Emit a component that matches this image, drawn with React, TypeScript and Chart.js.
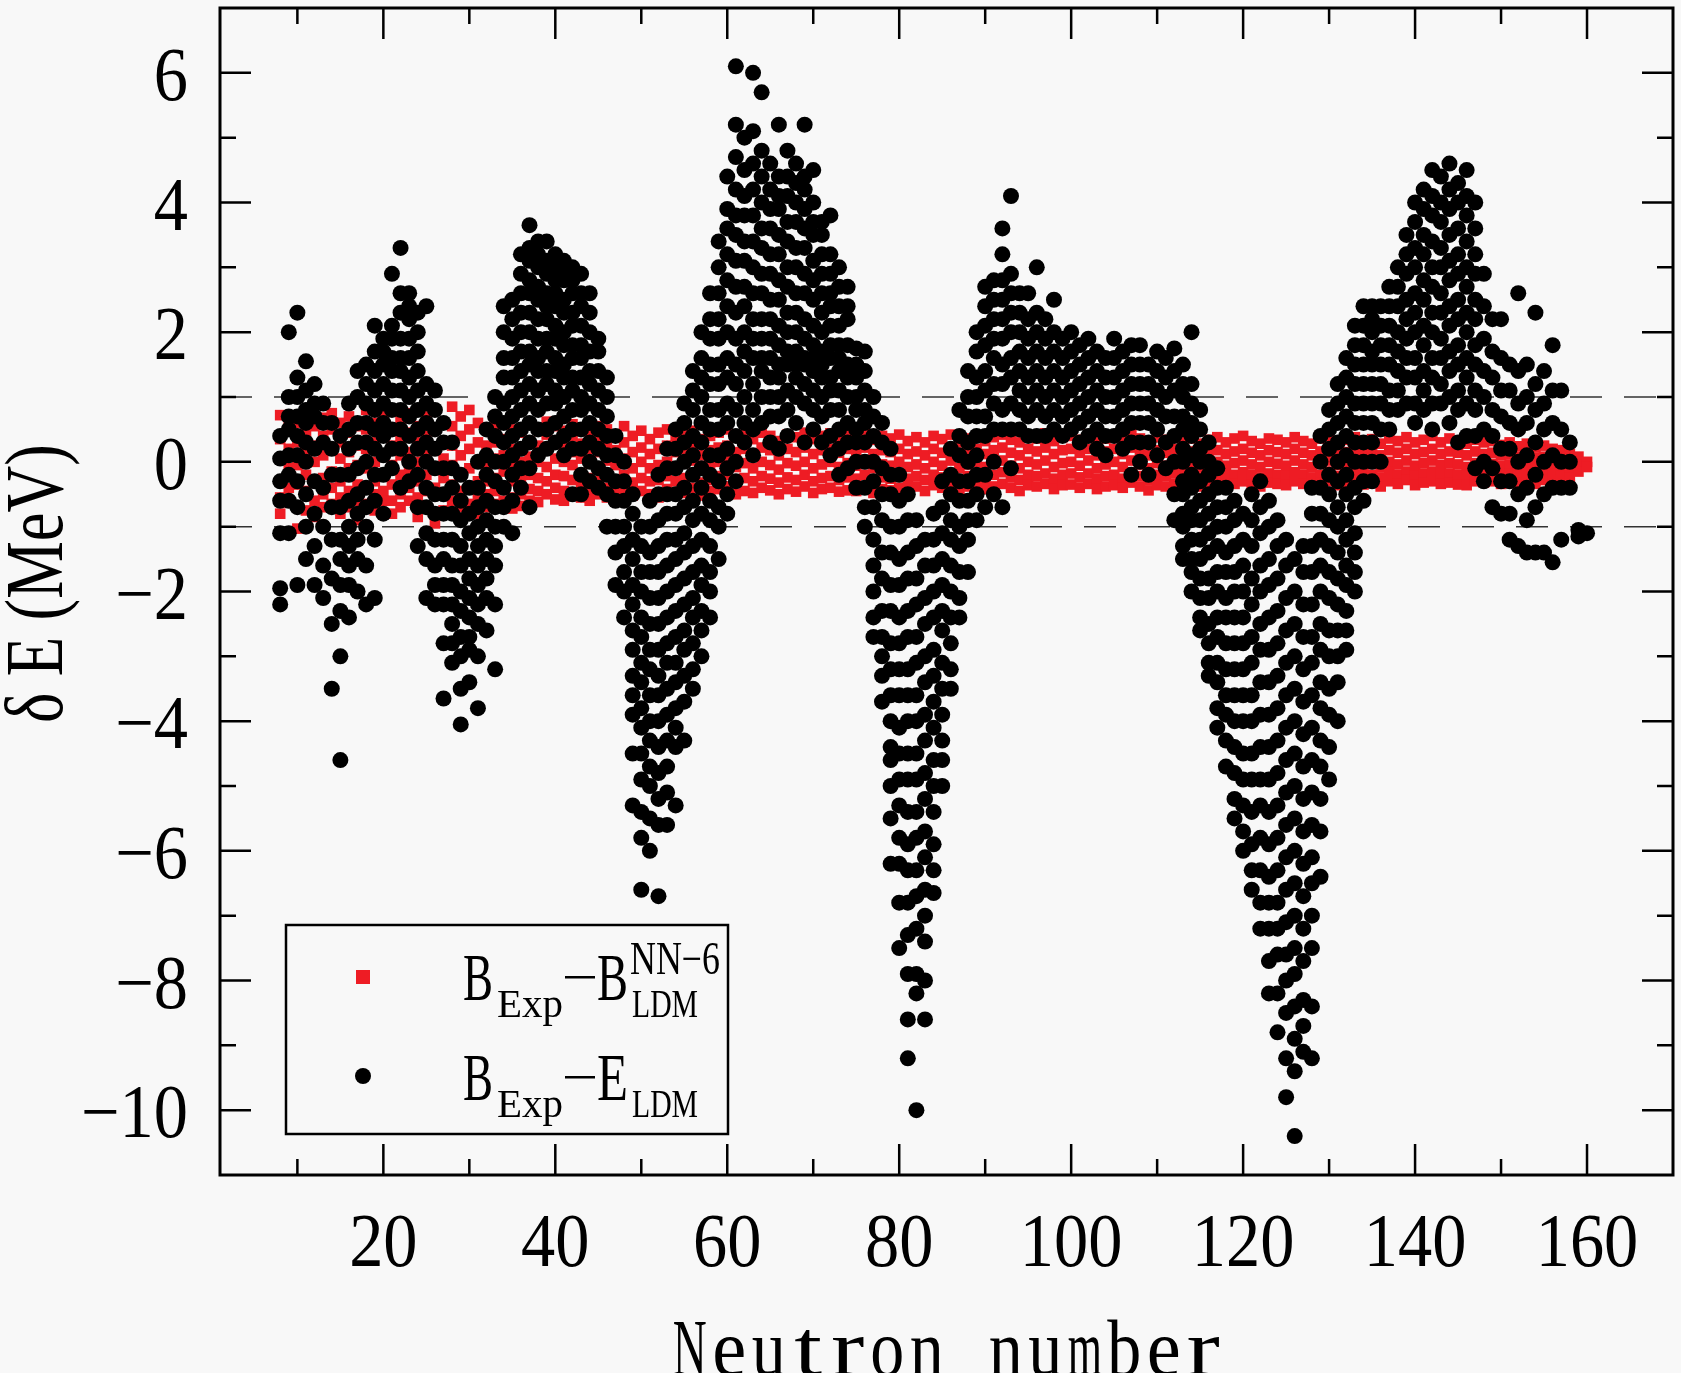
import { Chart, registerables, type ChartConfiguration, type Plugin } from "chart.js";
import { useEffect, useRef } from "react";

Chart.register(...registerables);

// axis ticks
const xMajor = [20, 40, 60, 80, 100, 120, 140, 160];
const xMinor = [10, 30, 50, 70, 90, 110, 130, 150];
const yMajor = [-10, -8, -6, -4, -2, 0, 2, 4, 6];
const yMinor = [-9, -7, -5, -3, -1, 1, 3, 5];
const guideLevels = [1, -1];

// B_Exp - E_LDM : [N, values...]
const ldmLight: number[][] = [
  [8, 0.4, 0.05, -0.3, -0.6, -1.1, -1.95, -2.2],
  [9, 2.0, 1.0, 0.7, 0.5, 0.1, -0.2, -0.6, -1.1],
  [10, 2.3, 1.3, 1.0, 0.7, 0.4, 0.1, -0.3, -0.7, -1.9],
  [11, 1.55, 1.1, 0.8, 0.6, 0.3, 0.0, -0.5, -1.0, -1.5],
  [12, 1.2, 0.9, 0.7, 0.2, -0.3, -0.8, -1.3, -1.9],
  [13, 0.9, 0.6, 0.3, -0.4, -1.0, -1.6, -2.1],
  [14, 0.6, 0.2, -0.2, -0.7, -1.2, -1.8, -2.5, -3.5],
  [15, 0.4, -0.2, -0.7, -1.2, -1.5, -1.9, -2.3, -3.0, -4.6],
  [16, 0.9, 0.5, 0.2, -0.2, -0.6, -1.0, -1.3, -1.6, -1.9, -2.4],
  [17, 1.4, 1.0, 0.6, 0.3, -0.1, -0.5, -0.8, -1.2, -1.5, -2.0],
  [18, 1.5, 1.2, 0.9, 0.6, 0.3, 0.0, -0.4, -0.7, -1.0, -1.6, -2.2],
  [19, 2.1, 1.7, 1.4, 1.1, 0.8, 0.5, 0.2, -0.2, -0.6, -1.2, -2.1],
  [20, 1.9, 1.7, 1.5, 1.2, 0.9, 0.6, 0.4, 0.1, -0.2, -0.8],
  [21, 2.9, 2.1, 1.9, 1.6, 1.4, 1.1, 0.8, 0.5, 0.2, -0.1],
  [22, 3.3, 2.6, 2.3, 1.9, 1.6, 1.4, 1.1, 0.8, 0.5, 0.2, -0.4],
  [23, 2.6, 2.4, 2.2, 1.9, 1.6, 1.3, 1.0, 0.7, 0.4, 0.0, -0.3],
  [24, 2.3, 2.0, 1.7, 1.4, 1.1, 0.8, 0.5, 0.2, -0.2, -0.7, -1.3],
  [25, 2.4, 1.2, 0.9, 0.6, 0.3, 0.0, -0.4, -0.7, -1.1, -1.5, -2.1],
  [26, 1.1, 0.8, 0.5, 0.2, -0.1, -0.5, -0.8, -1.2, -1.6, -1.9, -2.2],
  [27, 0.6, 0.3, -0.1, -0.5, -0.8, -1.2, -1.5, -1.9, -2.2, -2.8, -3.65],
  [28, 0.3, -0.1, -0.4, -0.8, -1.2, -1.6, -1.9, -2.2, -2.5, -2.8, -3.1],
  [29, -0.2, -0.6, -0.9, -1.3, -1.6, -2.0, -2.3, -2.7, -3.0, -3.5, -4.05],
  [30, -0.4, -0.8, -1.1, -1.5, -1.8, -2.1, -2.4, -2.7, -2.9, -3.4],
  [31, 0.0, -0.4, -0.7, -1.0, -1.3, -1.6, -1.9, -2.2, -2.5, -3.0, -3.8],
  [32, 0.5, 0.1, -0.2, -0.6, -0.9, -1.2, -1.5, -1.8, -2.1, -2.6],
  [33, 1.0, 0.7, 0.4, 0.0, -0.3, -0.7, -1.0, -1.3, -1.6, -2.2, -3.2],
];

const ldmMid: number[][] = [
  [34, 2.4, 2.0, 1.6, 1.3, 0.9, 0.6, 0.3, 0.0, -0.4, -0.7, -1.0],
  [35, 2.5, 2.2, 1.9, 1.6, 1.3, 1.0, 0.7, 0.4, 0.1, -0.2, -0.6, -1.1],
  [36, 3.2, 2.9, 2.6, 2.3, 2.0, 1.7, 1.4, 1.1, 0.8, 0.5, 0.2, -0.1, -0.4],
  [37, 3.65, 3.3, 3.1, 2.8, 2.6, 2.3, 2.0, 1.7, 1.5, 1.2, 0.9, 0.6, 0.3, -0.1, -0.7],
  [38, 3.4, 3.2, 3.0, 2.7, 2.5, 2.2, 1.9, 1.6, 1.4, 1.1, 0.8, 0.5, 0.1],
  [39, 3.4, 3.1, 2.9, 2.6, 2.4, 2.2, 1.9, 1.7, 1.4, 1.2, 0.9, 0.5, 0.2],
  [40, 3.2, 3.0, 2.8, 2.6, 2.4, 2.1, 1.9, 1.6, 1.4, 1.1, 0.9, 0.6, 0.3],
  [41, 3.1, 2.9, 2.8, 2.5, 2.3, 2.0, 1.8, 1.5, 1.3, 1.0, 0.7, 0.4, 0.1],
  [42, 3.0, 2.8, 2.6, 2.3, 2.1, 1.8, 1.6, 1.3, 1.1, 0.8, 0.5, 0.2, -0.5],
  [43, 2.9, 2.6, 2.4, 2.1, 1.8, 1.6, 1.3, 1.0, 0.8, 0.5, 0.2, -0.2, -0.5],
  [44, 2.6, 2.3, 2.0, 1.7, 1.4, 1.2, 0.9, 0.6, 0.3, 0.0, -0.3],
  [45, 1.9, 1.7, 1.4, 1.1, 0.8, 0.5, 0.2, -0.1, -0.4],
  [46, 1.3, 1.0, 0.7, 0.4, 0.1, -0.2, -0.5, -1.0],
  [47, 0.4, 0.1, -0.3, -0.6, -1.0, -1.4, -1.9],
  [48, 0.0, -0.3, -0.6, -1.0, -1.3, -1.7, -2.0, -2.4],
  [49, -0.5, -0.8, -1.2, -1.5, -1.9, -2.2, -2.6, -2.9, -3.3, -3.6, -3.9, -4.5, -5.3],
  [50, -1.0, -1.3, -1.7, -2.0, -2.4, -2.7, -3.1, -3.4, -3.8, -4.1, -4.5, -4.9, -5.4, -5.8, -6.6],
  [51, -0.6, -1.0, -1.4, -1.7, -2.1, -2.5, -2.9, -3.2, -3.6, -4.0, -4.3, -4.7, -5.0, -5.5, -6.0],
  [52, -0.2, -0.5, -0.9, -1.3, -1.7, -2.1, -2.5, -2.9, -3.3, -3.6, -4.0, -4.4, -4.8, -5.2, -5.6, -6.7],
  [53, 0.2, -0.1, -0.5, -0.8, -1.2, -1.6, -2.0, -2.4, -2.8, -3.1, -3.5, -3.9, -4.3, -4.7, -5.1, -5.6],
  [54, 0.5, 0.2, -0.1, -0.5, -0.8, -1.2, -1.5, -1.9, -2.3, -2.7, -3.1, -3.4, -3.8, -4.1, -4.4, -5.3],
  [55, 0.9, 0.6, 0.3, 0.0, -0.4, -0.7, -1.1, -1.4, -1.8, -2.2, -2.6, -2.9, -3.3, -3.7, -4.3],
  [56, 1.4, 1.1, 0.8, 0.4, 0.1, -0.2, -0.6, -0.9, -1.3, -1.7, -2.1, -2.4, -2.8, -3.2, -3.5],
  [57, 2.0, 1.6, 1.3, 1.0, 0.6, 0.3, -0.1, -0.4, -0.8, -1.2, -1.6, -1.9, -2.3, -2.6, -3.0],
  [58, 2.6, 2.2, 1.9, 1.5, 1.2, 0.8, 0.5, 0.1, -0.2, -0.6, -0.9, -1.3, -1.7, -2.0, -2.4],
  [59, 3.4, 3.0, 2.6, 2.2, 1.9, 1.5, 1.2, 0.8, 0.5, 0.1, -0.3, -0.7, -1.0, -1.5],
  [60, 4.4, 3.9, 3.6, 3.2, 2.8, 2.4, 2.0, 1.6, 1.3, 0.9, 0.6, 0.2, -0.1, -0.5, -0.8],
];

const ldmHeavy: number[][] = [
  [61, 6.1, 5.2, 4.7, 4.2, 3.8, 3.5, 3.1, 2.7, 2.3, 1.9, 1.5, 1.2, 0.8, 0.4, 0.0, -0.3],
  [62, 5.0, 4.5, 4.1, 3.8, 3.4, 3.1, 2.7, 2.4, 2.0, 1.7, 1.4, 1.0, 0.6, 0.3],
  [63, 6.0, 5.1, 4.6, 4.2, 3.8, 3.4, 3.0, 2.6, 2.2, 1.9, 1.6, 1.2, 0.8, 0.5, 0.1],
  [64, 5.7, 4.8, 4.4, 4.0, 3.6, 3.3, 2.9, 2.6, 2.2, 1.9, 1.6, 1.4, 1.0, 0.6],
  [65, 4.6, 4.2, 3.9, 3.6, 3.2, 2.9, 2.5, 2.2, 1.9, 1.6, 1.3, 1.0, 0.7, 0.3],
  [66, 5.2, 4.4, 4.1, 3.9, 3.5, 3.2, 2.8, 2.5, 2.1, 1.8, 1.5, 1.3, 1.0, 0.7, 0.2],
  [67, 4.8, 4.4, 4.1, 3.7, 3.4, 3.0, 2.7, 2.3, 2.0, 1.7, 1.5, 1.1, 0.8, 0.4],
  [68, 4.6, 4.3, 4.0, 3.7, 3.3, 3.0, 2.6, 2.3, 2.0, 1.7, 1.5, 1.3, 1.0, 0.6],
  [69, 5.2, 4.4, 4.2, 3.9, 3.6, 3.3, 2.9, 2.6, 2.2, 1.9, 1.6, 1.5, 1.2, 0.9, 0.3],
  [70, 4.5, 4.0, 3.7, 3.5, 3.1, 2.8, 2.5, 2.1, 1.8, 1.6, 1.4, 1.1, 0.8, 0.5],
  [71, 3.7, 3.5, 3.2, 2.9, 2.6, 2.3, 2.0, 1.7, 1.5, 1.3, 1.0, 0.7, 0.3],
  [72, 3.8, 3.2, 2.9, 2.6, 2.4, 2.1, 1.8, 1.6, 1.3, 1.1, 0.8, 0.4, 0.1],
  [73, 3.0, 2.7, 2.4, 2.1, 1.8, 1.6, 1.4, 1.1, 0.8, 0.5, 0.2, -0.2],
  [74, 2.7, 2.4, 2.2, 1.8, 1.5, 1.3, 1.0, 0.6, 0.3, -0.1],
  [75, 1.75, 1.5, 1.3, 1.0, 0.8, 0.5, 0.3, 0.0, -0.4],
  [76, 1.7, 1.4, 1.1, 0.8, 0.6, 0.3, 0.0, -0.4, -0.7, -1.0],
  [77, 1.0, 0.7, 0.4, 0.0, -0.3, -0.7, -1.2, -1.6, -2.0, -2.4, -2.7],
  [78, 0.6, 0.3, -0.1, -0.5, -0.9, -1.4, -1.8, -2.3, -2.7, -3.0, -3.3, -3.7],
  [79, 0.2, -0.2, -0.5, -1.0, -1.4, -1.9, -2.3, -2.8, -3.2, -3.6, -4.0, -4.4, -4.6, -5.0, -5.5, -6.2],
  [80, -0.2, -0.6, -1.0, -1.5, -1.9, -2.4, -2.8, -3.2, -3.6, -4.1, -4.5, -4.9, -5.3, -5.8, -6.2, -6.8, -7.5],
  [81, -0.5, -0.9, -1.4, -1.8, -2.3, -2.7, -3.2, -3.6, -4.0, -4.5, -4.9, -5.4, -5.9, -6.3, -6.8, -7.3, -7.9, -8.6, -9.2],
  [82, -0.9, -1.3, -1.8, -2.2, -2.7, -3.1, -3.6, -4.0, -4.5, -4.9, -5.4, -5.8, -6.3, -6.7, -7.2, -7.9, -8.2, -10.0],
  [83, -1.2, -1.6, -2.1, -2.5, -3.0, -3.4, -3.9, -4.3, -4.8, -5.2, -5.7, -6.1, -6.6, -7.0, -7.4, -8.0, -8.6],
  [84, -0.8, -1.2, -1.6, -2.0, -2.4, -2.9, -3.3, -3.7, -4.1, -4.6, -5.0, -5.4, -5.9, -6.3, -6.65],
  [85, -0.3, -0.7, -1.1, -1.5, -1.9, -2.3, -2.6, -3.1, -3.5, -3.9, -4.3, -4.6, -5.0],
  [86, 0.2, -0.2, -0.5, -0.9, -1.2, -1.6, -2.0, -2.4, -2.8, -3.2, -3.5],
  [87, 0.8, 0.4, 0.1, -0.3, -0.6, -1.0, -1.3, -1.7, -2.1, -2.4],
  [88, 1.4, 1.0, 0.7, 0.3, 0.0, -0.3, -0.6, -0.9, -1.2, -1.7],
  [89, 2.0, 1.7, 1.3, 1.0, 0.7, 0.4, 0.1, -0.2, -0.5, -0.9],
];

const ldmRare: number[][] = [
  [90, 2.7, 2.4, 2.1, 1.8, 1.4, 1.1, 0.7, 0.4, -0.2, -0.7],
  [91, 2.8, 2.5, 2.2, 1.9, 1.6, 1.2, 0.9, 0.5, 0.0, -0.5],
  [92, 3.6, 3.2, 2.8, 2.5, 2.2, 1.9, 1.5, 1.2, 0.8, 0.5, -0.7],
  [93, 4.1, 2.9, 2.6, 2.3, 2.0, 1.6, 1.3, 0.9, 0.5, -0.1],
  [94, 2.6, 2.3, 2.0, 1.7, 1.4, 1.1, 0.8, 0.5],
  [95, 2.6, 2.2, 1.9, 1.6, 1.3, 1.0, 0.7, 0.4],
  [96, 3.0, 2.3, 2.0, 1.7, 1.4, 1.1, 0.8, 0.4],
  [97, 2.2, 1.9, 1.6, 1.3, 1.0, 0.7, 0.4],
  [98, 2.5, 2.0, 1.7, 1.4, 1.1, 0.8, 0.5],
  [99, 1.9, 1.6, 1.3, 1.0, 0.7, 0.4],
  [100, 2.0, 1.7, 1.4, 1.1, 0.8, 0.5],
  [101, 1.8, 1.5, 1.2, 0.9, 0.6, 0.3],
  [102, 1.9, 1.6, 1.3, 1.0, 0.7, 0.4],
  [103, 1.7, 1.4, 1.1, 0.8, 0.5, 0.2],
  [104, 1.6, 1.3, 1.0, 0.7, 0.4, 0.1],
  [105, 1.9, 1.6, 1.3, 1.0, 0.7, 0.4],
  [106, 1.7, 1.4, 1.1, 0.8, 0.5, 0.2],
  [107, 1.8, 1.5, 1.2, 0.9, 0.6, 0.3, -0.2],
  [108, 1.8, 1.5, 1.2, 0.9, 0.6, 0.3, 0.0],
  [109, 1.5, 1.2, 0.9, 0.6, 0.3, -0.2],
  [110, 1.7, 1.4, 1.1, 0.8, 0.5, 0.1],
  [111, 1.6, 1.3, 1.0, 0.7, 0.3, -0.1],
  [112, 1.75, 1.4, 1.1, 0.7, 0.4, 0.0, -0.5, -0.9],
  [113, 1.5, 1.2, 1.0, 0.7, 0.5, 0.2, 0.0, -0.3, -0.5, -0.8, -1.0, -1.3, -1.5],
  [114, 2.0, 1.2, 0.9, 0.6, 0.4, 0.1, -0.2, -0.4, -0.7, -0.9, -1.2, -1.5, -1.7, -2.0],
  [115, 0.8, 0.5, 0.2, 0.0, -0.3, -0.6, -0.9, -1.2, -1.5, -1.8, -2.1, -2.4, -2.6],
  [116, 0.3, 0.0, -0.2, -0.5, -0.8, -1.1, -1.4, -1.8, -2.1, -2.5, -2.8, -3.1, -3.3],
  [117, -0.1, -0.4, -0.7, -1.0, -1.3, -1.7, -2.0, -2.4, -2.7, -3.1, -3.4, -3.8, -4.1],
  [118, -0.4, -0.7, -1.0, -1.4, -1.7, -2.1, -2.4, -2.8, -3.2, -3.6, -3.9, -4.3, -4.7],
  [119, -0.6, -0.9, -1.3, -1.7, -2.0, -2.4, -2.8, -3.2, -3.6, -4.0, -4.4, -4.8, -5.2, -5.5],
  [120, -0.8, -1.2, -1.6, -2.0, -2.4, -2.8, -3.2, -3.6, -4.0, -4.5, -4.9, -5.3, -5.7, -6.0],
];

const ldmActinide: number[][] = [
  [121, -0.5, -0.9, -1.3, -1.8, -2.2, -2.7, -3.1, -3.6, -4.0, -4.5, -4.9, -5.4, -5.9, -6.3, -6.6],
  [122, -0.3, -0.7, -1.1, -1.6, -2.0, -2.5, -2.9, -3.4, -3.9, -4.4, -4.9, -5.3, -5.8, -6.3, -6.8, -7.2],
  [123, -0.6, -1.0, -1.5, -1.9, -2.4, -2.9, -3.4, -3.9, -4.4, -4.9, -5.4, -5.9, -6.4, -6.8, -7.2, -7.7, -8.2],
  [124, -0.9, -1.3, -1.8, -2.3, -2.8, -3.3, -3.8, -4.3, -4.8, -5.3, -5.8, -6.3, -6.8, -7.2, -7.6, -8.2, -8.8],
  [125, -1.2, -1.6, -2.1, -2.6, -3.1, -3.6, -4.1, -4.6, -5.1, -5.6, -6.1, -6.6, -7.1, -7.6, -8.0, -8.5, -9.2, -9.8],
  [126, -1.5, -2.0, -2.5, -3.0, -3.5, -4.0, -4.5, -5.0, -5.5, -6.0, -6.5, -7.0, -7.5, -7.9, -8.4, -8.9, -9.4, -10.4],
  [127, -1.3, -1.7, -2.2, -2.7, -3.2, -3.7, -4.2, -4.7, -5.2, -5.7, -6.2, -6.7, -7.2, -7.7, -8.3, -8.7, -9.1],
  [128, -0.4, -0.8, -1.3, -1.7, -2.2, -2.7, -3.1, -3.6, -4.1, -4.6, -5.1, -5.6, -6.1, -6.5, -7.0, -7.5, -8.4, -9.2],
  [129, 0.4, 0.0, -0.4, -0.8, -1.2, -1.6, -2.0, -2.5, -2.9, -3.4, -3.8, -4.3, -4.7, -5.2, -5.7, -6.4],
  [130, 0.8, 0.5, 0.2, -0.2, -0.5, -0.9, -1.3, -1.7, -2.1, -2.6, -3.0, -3.5, -3.9, -4.4, -4.9],
  [131, 1.2, 0.9, 0.6, 0.3, 0.0, -0.3, -0.7, -1.0, -1.4, -1.8, -2.2, -2.6, -3.0, -3.4, -4.0],
  [132, 1.6, 1.3, 1.0, 0.7, 0.4, 0.1, -0.2, -0.5, -0.9, -1.2, -1.6, -1.9, -2.3, -2.6, -2.9],
  [133, 2.1, 1.8, 1.5, 1.2, 0.9, 0.6, 0.3, 0.0, -0.4, -0.7, -1.1, -1.4, -1.7, -2.0],
  [134, 2.4, 2.1, 1.8, 1.5, 1.2, 0.9, 0.6, 0.3, 0.0, -0.3, -0.6],
  [135, 2.4, 2.2, 2.0, 1.7, 1.5, 1.2, 0.9, 0.6, 0.3, 0.0, -0.3],
  [136, 2.4, 2.1, 1.8, 1.5, 1.2, 0.9, 0.5, 0.0],
  [137, 2.7, 2.4, 2.1, 1.8, 1.5, 1.1, 0.8, 0.5],
  [138, 3.0, 2.7, 2.4, 2.0, 1.7, 1.4, 1.1, 0.8],
  [139, 3.5, 3.2, 2.9, 2.5, 2.2, 1.9, 1.6, 1.3, 0.9],
  [140, 4.0, 3.7, 3.3, 3.0, 2.6, 2.3, 2.0, 1.6, 1.3, 0.9, 0.6],
  [141, 4.2, 3.9, 3.5, 3.2, 2.8, 2.5, 2.1, 1.8, 1.4, 1.1, 0.8],
  [142, 4.5, 4.1, 3.8, 3.4, 3.0, 2.7, 2.3, 2.0, 1.6, 1.3, 0.9, 0.5],
  [143, 4.4, 4.0, 3.7, 3.3, 3.0, 2.6, 2.3, 1.9, 1.6, 1.2, 0.9],
  [144, 4.6, 4.2, 3.9, 3.5, 3.1, 2.8, 2.4, 2.1, 1.7, 1.4, 1.0, 0.6],
  [145, 4.3, 4.0, 3.6, 3.2, 2.9, 2.5, 2.2, 1.8, 1.5, 1.1, 0.8, 0.3],
  [146, 4.5, 4.1, 3.8, 3.4, 3.0, 2.7, 2.3, 2.0, 1.6, 1.3, 0.9, 0.4],
  [147, 4.0, 3.6, 3.2, 2.9, 2.5, 2.2, 1.8, 1.5, 1.1, 0.8, 0.4, -0.1],
  [148, 2.9, 2.4, 1.9, 1.4, 1.0, 0.5, 0.0, -0.3],
  [149, 2.2, 1.7, 1.3, 0.8, 0.4, -0.1, -0.7],
  [150, 2.2, 1.6, 1.1, 0.7, 0.2, -0.3, -0.8],
  [151, 1.5, 1.1, 0.6, 0.2, -0.3, -0.8, -1.2],
  [152, 2.6, 1.4, 0.9, 0.5, 0.0, -0.5, -1.3],
  [153, 1.5, 1.0, 0.6, 0.1, -0.4, -0.9, -1.4],
  [154, 2.3, 1.2, 0.8, 0.3, -0.2, -0.7, -1.4],
  [155, 1.4, 0.9, 0.5, 0.0, -0.5, -1.4],
  [156, 1.8, 1.1, 0.6, 0.1, -0.4, -1.55],
  [157, 1.1, 0.5, 0.0, -0.4, -1.2],
  [158, 0.3, 0.0, -0.4],
  [159, -1.15, -1.05],
  [160, -1.1],
];

// B_Exp - B_LDM^NN-6 : [N, values...]
const nnLight: number[][] = [
  [8, 0.72, 0.35, 0.05, -0.3, -0.55, -0.8],
  [9, 0.66, 0.5, 0.2, -0.1, -0.4, -0.62],
  [10, 0.6, 0.3, -0.05, -0.35, -0.7, -1.03],
  [11, 0.7, 0.45, 0.15, -0.2, -0.45, -0.75],
  [12, 0.55, 0.25, 0.0, -0.3, -0.6, -0.85],
  [13, 0.68, 0.4, 0.1, -0.25, -0.5, -0.7],
  [14, 0.75, 0.5, 0.2, -0.15, -0.4, -0.65],
  [15, 0.6, 0.3, 0.05, -0.3, -0.55, -0.8],
  [16, 0.7, 0.45, 0.15, -0.1, -0.45, -0.7],
  [17, 0.55, 0.25, -0.05, -0.35, -0.6, -0.9],
  [18, 0.8, 0.5, 0.2, -0.1, -0.4, -0.65],
  [19, 0.6, 0.3, 0.0, -0.3, -0.5, -0.75],
  [20, 0.72, 0.4, 0.1, -0.2, -0.45, -0.6],
  [21, 0.5, 0.25, -0.05, -0.35, -0.6, -0.8],
  [22, 0.65, 0.35, 0.1, -0.2, -0.5, -0.7],
  [23, 0.75, 0.45, 0.15, -0.15, -0.4, -0.6],
  [24, 0.55, 0.3, 0.0, -0.3, -0.55, -0.85],
  [25, 0.7, 0.4, 0.1, -0.2, -0.45, -0.7],
  [26, 0.8, 0.5, 0.2, -0.1, -0.4, -0.95],
  [27, 0.6, 0.3, 0.05, -0.25, -0.5, -0.75],
  [28, 0.85, 0.55, 0.25, -0.05, -0.35, -0.6],
  [29, 0.7, 0.4, 0.1, -0.2, -0.45, -0.7],
  [30, 0.8, 0.5, 0.2, -0.1, -0.4, -0.65],
  [31, 0.6, 0.3, 0.0, -0.3, -0.55, -0.8],
  [32, 0.5, 0.25, -0.05, -0.3, -0.5, -0.7],
  [33, 0.55, 0.3, 0.05, -0.25, -0.45, -0.65],
  [34, 0.62, 0.35, 0.1, -0.15, -0.4, -0.6],
  [35, 0.5, 0.2, -0.05, -0.3, -0.55, -0.72],
  [36, 0.45, 0.2, 0.0, -0.25, -0.5, -0.68],
  [37, 0.58, 0.32, 0.08, -0.2, -0.42, -0.6],
  [38, 0.5, 0.25, 0.0, -0.25, -0.45, -0.62],
  [39, 0.62, 0.42, 0.18, -0.08, -0.3, -0.5],
  [40, 0.55, 0.3, 0.05, -0.2, -0.4, -0.58],
  [41, 0.48, 0.22, 0.0, -0.22, -0.45, -0.6],
  [42, 0.58, 0.4, 0.15, -0.05, -0.28, -0.5],
  [43, 0.52, 0.28, 0.05, -0.18, -0.38, -0.55],
  [44, 0.45, 0.2, -0.02, -0.25, -0.45, -0.6],
  [45, 0.55, 0.38, 0.15, -0.08, -0.3, -0.5],
  [46, 0.5, 0.25, 0.02, -0.2, -0.4, -0.55],
  [47, 0.42, 0.18, -0.05, -0.28, -0.48],
  [48, 0.55, 0.3, 0.05, -0.2, -0.42],
  [49, 0.4, 0.15, -0.1, -0.32, -0.52],
  [50, 0.48, 0.22, 0.0, -0.25, -0.45],
];

const nnMid: number[][] = [
  [51, 0.35, 0.12, -0.1, -0.3, -0.5],
  [52, 0.45, 0.2, -0.05, -0.28, -0.55],
  [53, 0.5, 0.25, 0.0, -0.22, -0.42],
  [54, 0.38, 0.15, -0.08, -0.3, -0.5],
  [55, 0.42, 0.2, -0.02, -0.25, -0.48],
  [56, 0.48, 0.25, 0.02, -0.2, -0.4],
  [57, 0.35, 0.1, -0.12, -0.32, -0.52],
  [58, 0.4, 0.18, -0.05, -0.28, -0.45],
  [59, 0.45, 0.22, 0.0, -0.22, -0.42],
  [60, 0.5, 0.25, 0.03, -0.2, -0.38],
  [61, 0.38, 0.15, -0.08, -0.3, -0.5],
  [62, 0.42, 0.2, -0.02, -0.25, -0.45],
  [63, 0.35, 0.12, -0.1, -0.3, -0.48],
  [64, 0.45, 0.22, 0.0, -0.22, -0.4],
  [65, 0.4, 0.18, -0.05, -0.26, -0.44],
  [66, 0.32, 0.1, -0.12, -0.32, -0.5],
  [67, 0.42, 0.2, -0.02, -0.24, -0.42],
  [68, 0.38, 0.15, -0.06, -0.28, -0.46],
  [69, 0.45, 0.22, 0.0, -0.2, -0.38],
  [70, 0.35, 0.12, -0.1, -0.3, -0.48],
  [71, 0.4, 0.18, -0.04, -0.25, -0.42],
  [72, 0.44, 0.2, 0.0, -0.22, -0.4],
  [73, 0.36, 0.14, -0.08, -0.28, -0.46],
  [74, 0.42, 0.2, -0.02, -0.24, -0.44],
  [75, 0.38, 0.16, -0.06, -0.26, -0.45],
  [76, 0.45, 0.22, 0.02, -0.2, -0.38],
  [77, 0.34, 0.12, -0.1, -0.3, -0.48],
  [78, 0.4, 0.18, -0.04, -0.24, -0.42],
  [79, 0.36, 0.15, -0.06, -0.26, -0.44],
  [80, 0.42, 0.2, 0.0, -0.22, -0.4],
  [81, 0.32, 0.12, -0.08, -0.26, -0.42],
  [82, 0.38, 0.16, -0.04, -0.22, -0.38],
  [83, 0.3, 0.1, -0.1, -0.28, -0.45],
  [84, 0.4, 0.2, 0.0, -0.2, -0.36],
  [85, 0.35, 0.14, -0.06, -0.24, -0.4],
  [86, 0.42, 0.2, 0.02, -0.18, -0.35],
  [87, 0.3, 0.1, -0.1, -0.28, -0.44],
  [88, 0.36, 0.16, -0.04, -0.22, -0.38],
  [89, 0.4, 0.2, 0.0, -0.2, -0.36],
  [90, 0.32, 0.12, -0.08, -0.26, -0.42],
  [91, 0.38, 0.18, -0.02, -0.2, -0.38],
  [92, 0.42, 0.22, 0.02, -0.16, -0.34],
  [93, 0.34, 0.14, -0.06, -0.24, -0.4],
  [94, 0.3, 0.1, -0.1, -0.28, -0.45],
  [95, 0.4, 0.2, 0.0, -0.2, -0.36],
  [96, 0.36, 0.16, -0.04, -0.22, -0.38],
  [97, 0.44, 0.22, 0.02, -0.18, -0.34],
  [98, 0.32, 0.12, -0.08, -0.26, -0.42],
  [99, 0.38, 0.18, -0.02, -0.2, -0.36],
  [100, 0.4, 0.2, 0.0, -0.18, -0.35],
  [101, 0.34, 0.14, -0.06, -0.24, -0.4],
  [102, 0.42, 0.2, 0.02, -0.18, -0.34],
  [103, 0.3, 0.1, -0.1, -0.26, -0.42],
  [104, 0.36, 0.16, -0.04, -0.22, -0.38],
  [105, 0.4, 0.2, 0.0, -0.2, -0.36],
  [106, 0.32, 0.12, -0.08, -0.26, -0.4],
  [107, 0.44, 0.22, 0.02, -0.16, -0.32],
  [108, 0.36, 0.16, -0.04, -0.22, -0.38],
  [109, 0.3, 0.1, -0.1, -0.28, -0.44],
  [110, 0.38, 0.18, -0.02, -0.2, -0.36],
  [111, 0.34, 0.14, -0.06, -0.22, -0.38],
  [112, 0.4, 0.2, 0.0, -0.18, -0.34],
];

const nnHeavy: number[][] = [
  [113, 0.3, 0.12, -0.06, -0.22, -0.36],
  [114, 0.36, 0.16, -0.02, -0.2, -0.34],
  [115, 0.28, 0.1, -0.08, -0.24, -0.38],
  [116, 0.34, 0.15, -0.04, -0.2, -0.32],
  [117, 0.38, 0.18, 0.0, -0.18, -0.3],
  [118, 0.3, 0.12, -0.06, -0.22, -0.36],
  [119, 0.36, 0.16, -0.02, -0.2, -0.34],
  [120, 0.4, 0.2, 0.02, -0.16, -0.3],
  [121, 0.32, 0.14, -0.04, -0.2, -0.35],
  [122, 0.28, 0.1, -0.08, -0.24, -0.38],
  [123, 0.36, 0.18, 0.0, -0.18, -0.32],
  [124, 0.34, 0.15, -0.03, -0.2, -0.34],
  [125, 0.3, 0.12, -0.06, -0.22, -0.36],
  [126, 0.38, 0.2, 0.02, -0.16, -0.3],
  [127, 0.32, 0.14, -0.04, -0.2, -0.34],
  [128, 0.28, 0.1, -0.08, -0.24, -0.38],
  [129, 0.36, 0.16, -0.02, -0.2, -0.32],
  [130, 0.4, 0.2, 0.02, -0.15, -0.3],
  [131, 0.3, 0.12, -0.05, -0.22, -0.36],
  [132, 0.34, 0.15, -0.03, -0.2, -0.34],
  [133, 0.38, 0.18, 0.0, -0.18, -0.3],
  [134, 0.3, 0.12, -0.06, -0.22, -0.35],
  [135, 0.35, 0.16, -0.02, -0.2, -0.32],
  [136, 0.28, 0.1, -0.08, -0.24, -0.38],
  [137, 0.36, 0.18, 0.0, -0.16, -0.3],
  [138, 0.32, 0.14, -0.04, -0.2, -0.34],
  [139, 0.38, 0.2, 0.02, -0.15, -0.28],
  [140, 0.3, 0.12, -0.06, -0.22, -0.36],
  [141, 0.34, 0.15, -0.02, -0.18, -0.32],
  [142, 0.4, 0.2, 0.02, -0.15, -0.3],
  [143, 0.3, 0.12, -0.05, -0.2, -0.34],
  [144, 0.36, 0.16, -0.02, -0.18, -0.32],
  [145, 0.32, 0.14, -0.04, -0.2, -0.35],
  [146, 0.28, 0.1, -0.08, -0.22, -0.36],
  [147, 0.34, 0.16, -0.02, -0.18, -0.3],
  [148, 0.3, 0.12, -0.04, -0.2, -0.32],
  [149, 0.32, 0.14, -0.03, -0.18, -0.3],
  [150, 0.26, 0.1, -0.06, -0.2, -0.34],
  [151, 0.3, 0.12, -0.04, -0.18, -0.3],
  [152, 0.24, 0.08, -0.08, -0.22, -0.32],
  [153, 0.28, 0.1, -0.06, -0.2, -0.3],
  [154, 0.22, 0.06, -0.1, -0.22, -0.34],
  [155, 0.25, 0.08, -0.06, -0.18, -0.28],
  [156, 0.2, 0.04, -0.1, -0.2, -0.3],
  [157, 0.18, 0.02, -0.12, -0.22],
  [158, 0.12, -0.02, -0.14, -0.24],
  [159, 0.08, -0.05, -0.15],
  [160, 0.0, -0.08],
];

const RED = "#ee1c24";
const INK = "#000000";
const SERIF = "'Liberation Serif', 'DejaVu Serif', serif";

function toPoints(rows: number[][]) {
  return rows.flatMap(([n, ...vals]) => vals.map((v) => ({ x: n, y: v })));
}

function drawScaled(
  ctx: CanvasRenderingContext2D,
  text: string,
  x: number,
  y: number,
  font: string,
  sx: number,
  align: CanvasTextAlign = "left",
) {
  ctx.save();
  ctx.font = font;
  ctx.textAlign = align;
  ctx.textBaseline = "alphabetic";
  ctx.translate(x, y);
  ctx.scale(sx, 1);
  ctx.fillText(text, 0, 0);
  ctx.restore();
}

// squeeze a run of text into a given width
function drawFit(ctx: CanvasRenderingContext2D, text: string, x: number, y: number, font: string, width: number) {
  ctx.save();
  ctx.font = font;
  const w = ctx.measureText(text).width;
  ctx.restore();
  drawScaled(ctx, text, x, y, font, width / w);
}

// serif glyphs set in fixed-width cells, like a half-width CJK face
function drawCells(ctx: CanvasRenderingContext2D, text: string, cx: number, y: number, font: string, cell: number) {
  const chars = [...text];
  const x0 = cx - (chars.length * cell) / 2;
  ctx.save();
  ctx.font = font;
  chars.forEach((ch, i) => {
    if (ch === " ") return;
    const w = ctx.measureText(ch).width;
    const sx = Math.max(0.55, Math.min(1.25, (cell * 0.86) / w));
    drawScaled(ctx, ch, x0 + (i + 0.5) * cell, y, font, sx, "center");
  });
  ctx.restore();
}

const fmt = (v: number) => (v < 0 ? `\u2212${Math.abs(v)}` : String(v));

const guidePlugin: Plugin<"scatter"> = {
  id: "guides",
  beforeDatasetsDraw(chart) {
    const { ctx, chartArea: a, scales } = chart;
    ctx.save();
    ctx.strokeStyle = "#333333";
    ctx.lineWidth = 1.5;
    ctx.setLineDash([32, 22]);
    for (const v of guideLevels) {
      const py = scales.y.getPixelForValue(v);
      ctx.beginPath();
      ctx.moveTo(a.left, py);
      ctx.lineTo(a.right, py);
      ctx.stroke();
    }
    ctx.restore();
  },
};

const framePlugin: Plugin<"scatter"> = {
  id: "frame",
  afterDatasetsDraw(chart) {
    const { ctx, chartArea: a, scales } = chart;
    const xs = scales.x;
    const ys = scales.y;
    ctx.save();
    ctx.strokeStyle = INK;
    ctx.fillStyle = INK;

    // ticks on all four sides, pointing in
    ctx.lineWidth = 2.5;
    const tickX = (vals: number[], len: number) => {
      for (const v of vals) {
        const px = xs.getPixelForValue(v);
        ctx.beginPath();
        ctx.moveTo(px, a.bottom);
        ctx.lineTo(px, a.bottom - len);
        ctx.moveTo(px, a.top);
        ctx.lineTo(px, a.top + len);
        ctx.stroke();
      }
    };
    const tickY = (vals: number[], len: number) => {
      for (const v of vals) {
        const py = ys.getPixelForValue(v);
        ctx.beginPath();
        ctx.moveTo(a.left, py);
        ctx.lineTo(a.left + len, py);
        ctx.moveTo(a.right, py);
        ctx.lineTo(a.right - len, py);
        ctx.stroke();
      }
    };
    tickX(xMajor, 31);
    tickX(xMinor, 16);
    tickY(yMajor, 31);
    tickY(yMinor, 16);

    ctx.lineWidth = 3;
    ctx.strokeRect(a.left, a.top, a.right - a.left, a.bottom - a.top);

    // tick labels
    const tickFont = `76px ${SERIF}`;
    for (const v of xMajor) {
      drawScaled(ctx, fmt(v), xs.getPixelForValue(v), a.bottom + 91, tickFont, 0.9, "center");
    }
    for (const v of yMajor) {
      drawScaled(ctx, fmt(v), a.left - 32, ys.getPixelForValue(v) + 27, tickFont, 0.9, "right");
    }

    // axis titles
    drawCells(ctx, "Neutron number", (a.left + a.right) / 2, a.bottom + 200, `80px ${SERIF}`, 39.5);
    ctx.save();
    ctx.translate(a.left - 158, (a.top + a.bottom) / 2 - 8);
    ctx.rotate(-Math.PI / 2);
    drawScaled(ctx, "\u03b4 E (MeV)", 0, 0, `82px ${SERIF}`, 0.79, "center");
    ctx.restore();

    ctx.restore();
  },
};

const legendPlugin: Plugin<"scatter"> = {
  id: "mathLegend",
  afterDraw(chart) {
    const { ctx, chartArea: a } = chart;
    const bx = a.left + 66;
    const by = a.top + 917;
    const main = `68px ${SERIF}`;
    const sub = `41px ${SERIF}`;
    const sup = `46px ${SERIF}`;
    ctx.save();
    ctx.fillStyle = "#f8f8f8";
    ctx.fillRect(bx, by, 442, 209);
    ctx.strokeStyle = INK;
    ctx.lineWidth = 2.5;
    ctx.strokeRect(bx, by, 442, 209);

    // markers
    ctx.fillStyle = RED;
    ctx.fillRect(bx + 70, by + 45, 14, 14);
    ctx.fillStyle = INK;
    ctx.beginPath();
    ctx.arc(bx + 77, by + 151, 8, 0, Math.PI * 2);
    ctx.fill();

    // line 1: B_Exp - B_LDM^NN-6
    const l1 = by + 75;
    drawFit(ctx, "B", bx + 177, l1, main, 30);
    drawFit(ctx, "Exp", bx + 211, l1 + 17, sub, 66);
    ctx.fillRect(bx + 279, l1 - 24, 30, 2.5);
    drawFit(ctx, "B", bx + 311, l1, main, 31);
    drawFit(ctx, "NN\u22126", bx + 344, l1 - 26, sup, 90);
    drawFit(ctx, "LDM", bx + 346, l1 + 17, sub, 66);

    // line 2: B_Exp - E_LDM
    const l2 = by + 175;
    drawFit(ctx, "B", bx + 177, l2, main, 30);
    drawFit(ctx, "Exp", bx + 211, l2 + 17, sub, 66);
    ctx.fillRect(bx + 279, l2 - 24, 30, 2.5);
    drawFit(ctx, "E", bx + 311, l2, main, 31);
    drawFit(ctx, "LDM", bx + 346, l2 + 17, sub, 66);
    ctx.restore();
  },
};

function buildConfig(): ChartConfiguration<"scatter"> {
  return {
    type: "scatter",
    data: {
      datasets: [
        {
          label: "B_Exp - E_LDM",
          data: toPoints([...ldmLight, ...ldmMid, ...ldmHeavy, ...ldmRare, ...ldmActinide]),
          backgroundColor: INK,
          borderWidth: 0,
          pointRadius: 8,
          pointStyle: "circle",
        },
        {
          label: "B_Exp - B_LDM^NN-6",
          data: toPoints([...nnLight, ...nnMid, ...nnHeavy]),
          backgroundColor: RED,
          borderWidth: 0,
          pointRadius: 7.5,
          pointStyle: "rect",
        },
      ],
    },
    options: {
      animation: false,
      responsive: false,
      events: [],
      layout: { padding: { top: 1, right: 3, bottom: 0, left: 0 } },
      plugins: {
        legend: { display: false },
        tooltip: { enabled: false },
      },
      scales: {
        x: {
          type: "linear",
          min: 1,
          max: 170,
          grid: { display: false, drawTicks: false },
          border: { display: false },
          ticks: { display: false },
          afterFit(scale) {
            scale.height = 198;
          },
        },
        y: {
          type: "linear",
          min: -11,
          max: 7,
          grid: { display: false, drawTicks: false },
          border: { display: false },
          ticks: { display: false },
          afterFit(scale) {
            scale.width = 220;
          },
        },
      },
    },
    plugins: [guidePlugin, framePlugin, legendPlugin],
  };
}

export default function App() {
  const canvasRef = useRef<HTMLCanvasElement>(null);

  useEffect(() => {
    document.body.style.margin = "0";
    document.body.style.overflow = "hidden";
    document.body.style.background = "#f8f8f8";
    if (!canvasRef.current) {
      return;
    }
    const chart = new Chart(canvasRef.current, buildConfig());
    return () => {
      chart.destroy();
    };
  }, []);

  return (
    <canvas
      ref={canvasRef}
      width={1681}
      height={1373}
      style={{ display: "block", width: 1681, height: 1373 }}
    />
  );
}
